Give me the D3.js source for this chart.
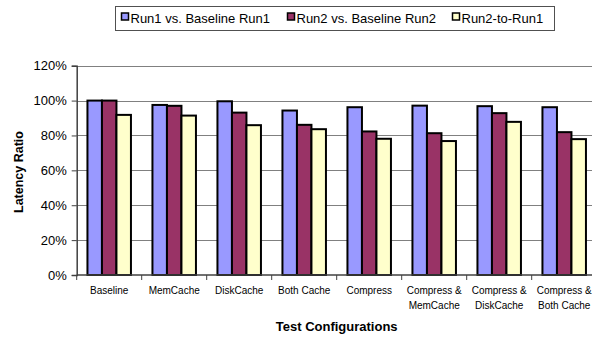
<!DOCTYPE html>
<html>
<head>
<meta charset="utf-8">
<script src="https://cdn.jsdelivr.net/npm/d3@7/dist/d3.min.js"></script>
<style>
  html, body { margin: 0; padding: 0; background: #fff; }
  svg { display: block; font-family: "Liberation Sans", Arial, sans-serif; }
</style>
</head>
<body>
<svg id="chart" width="592" height="337"></svg>
<script>
const categories = [
  ["Baseline"],
  ["MemCache"],
  ["DiskCache"],
  ["Both Cache"],
  ["Compress"],
  ["Compress &", "MemCache"],
  ["Compress &", "DiskCache"],
  ["Compress &", "Both Cache"]
];
const seriesNames = ["Run1 vs. Baseline Run1", "Run2 vs. Baseline Run2", "Run2-to-Run1"];
const run1VsBaseline = [1.00, 0.975, 0.996, 0.943, 0.962, 0.971, 0.968, 0.962];
const run2VsBaseline = [1.00, 0.970, 0.931, 0.861, 0.823, 0.813, 0.928, 0.819];
const run2ToRun1     = [0.918, 0.914, 0.859, 0.836, 0.781, 0.768, 0.878, 0.779];
const yTicks = [0, 0.2, 0.4, 0.6, 0.8, 1.0, 1.2];
const colors = ["#9999FF", "#993366", "#FFFFCC"];

const seriesValues = [run1VsBaseline, run2VsBaseline, run2ToRun1];
const svg = d3.select("#chart");

const plot = { left: 76.7, right: 596.7, top: 65.7, bottom: 275 };
const catIdx = categories.map((c, i) => i);
const x = d3.scaleBand().domain(catIdx).range([plot.left, plot.right]).paddingInner(0).paddingOuter(0);
const xs = d3.scaleBand().domain([0, 1, 2]).range([10.75, x.bandwidth() - 10.75]).padding(0);
const y = d3.scaleLinear().domain([0, 1.2]).range([plot.bottom, plot.top]);

// gridlines
svg.append("g").selectAll("line").data(yTicks.filter(t => t > 0)).join("line")
  .attr("x1", plot.left).attr("x2", plot.right)
  .attr("y1", d => Math.round(y(d)) + 0.5).attr("y2", d => Math.round(y(d)) + 0.5)
  .attr("stroke", "#808080").attr("stroke-width", 1);

// bars
const groups = svg.append("g").selectAll("g").data(catIdx).join("g")
  .attr("transform", i => `translate(${x(i)},0)`);
groups.selectAll("rect").data(i => seriesValues.map((s, k) => ({ k, v: s[i] }))).join("rect")
  .attr("x", d => xs(d.k))
  .attr("y", d => y(d.v))
  .attr("width", xs.bandwidth())
  .attr("height", d => y(0) - y(d.v))
  .attr("fill", d => colors[d.k])
  .attr("stroke", "#000")
  .attr("stroke-width", 2);

// y axis
const yAxis = d3.axisLeft(y).tickValues(yTicks).tickFormat(d3.format(".0%")).tickSize(5).tickPadding(5);
const gy = svg.append("g").attr("transform", `translate(${plot.left},0)`).call(yAxis);
gy.select(".domain").attr("stroke", "#404040").attr("stroke-width", 1.5);
gy.selectAll(".tick line").attr("stroke", "#404040");
gy.selectAll(".tick text").attr("font-size", 13).attr("fill", "#000")
  .attr("font-family", "Liberation Sans, Arial, sans-serif");

// x axis
const gx = svg.append("g").attr("transform", `translate(0,${plot.bottom})`);
gx.append("line").attr("x1", plot.left).attr("x2", plot.right).attr("y1", 0).attr("y2", 0)
  .attr("stroke", "#404040").attr("stroke-width", 1.5);
gx.selectAll(".tk").data(d3.range(categories.length + 1)).join("line").attr("class", "tk")
  .attr("x1", i => plot.left + i * x.step()).attr("x2", i => plot.left + i * x.step())
  .attr("y1", 0).attr("y2", 5).attr("stroke", "#404040");
const lbl = gx.selectAll(".lbl").data(catIdx).join("text").attr("class", "lbl")
  .attr("x", i => x(i) + x.bandwidth() / 2)
  .attr("text-anchor", "middle").attr("font-size", 10).attr("fill", "#000");
lbl.selectAll("tspan").data(i => categories[i]).join("tspan")
  .attr("x", function () { return d3.select(this.parentNode).attr("x"); })
  .attr("y", (d, j) => 19 + j * 15)
  .text(d => d);

// axis titles
svg.append("text").attr("x", 336.7).attr("y", 331).attr("text-anchor", "middle")
  .attr("font-size", 13).attr("font-weight", "bold").text("Test Configurations");
svg.append("text").attr("transform", "translate(22.5,172) rotate(-90)").attr("text-anchor", "middle")
  .attr("font-size", 12.5).attr("font-weight", "bold").text("Latency Ratio");

// legend
const lg = svg.append("g");
lg.append("rect").attr("x", 115.5).attr("y", 6.5).attr("width", 439).attr("height", 24)
  .attr("fill", "#fff").attr("stroke", "#505050").attr("stroke-width", 1);
const legX = [121, 287, 452];
const items = lg.selectAll(".li").data(seriesNames).join("g").attr("class", "li")
  .attr("transform", (d, i) => `translate(${legX[i]},0)`);
items.append("rect").attr("x", 0.5).attr("y", 13).attr("width", 7).attr("height", 7)
  .attr("fill", (d, i) => colors[i]).attr("stroke", "#000").attr("stroke-width", 1.5);
items.append("text").attr("x", 9.5).attr("y", 23).attr("font-size", 13).attr("fill", "#000").text(d => d);
</script>
</body>
</html>
